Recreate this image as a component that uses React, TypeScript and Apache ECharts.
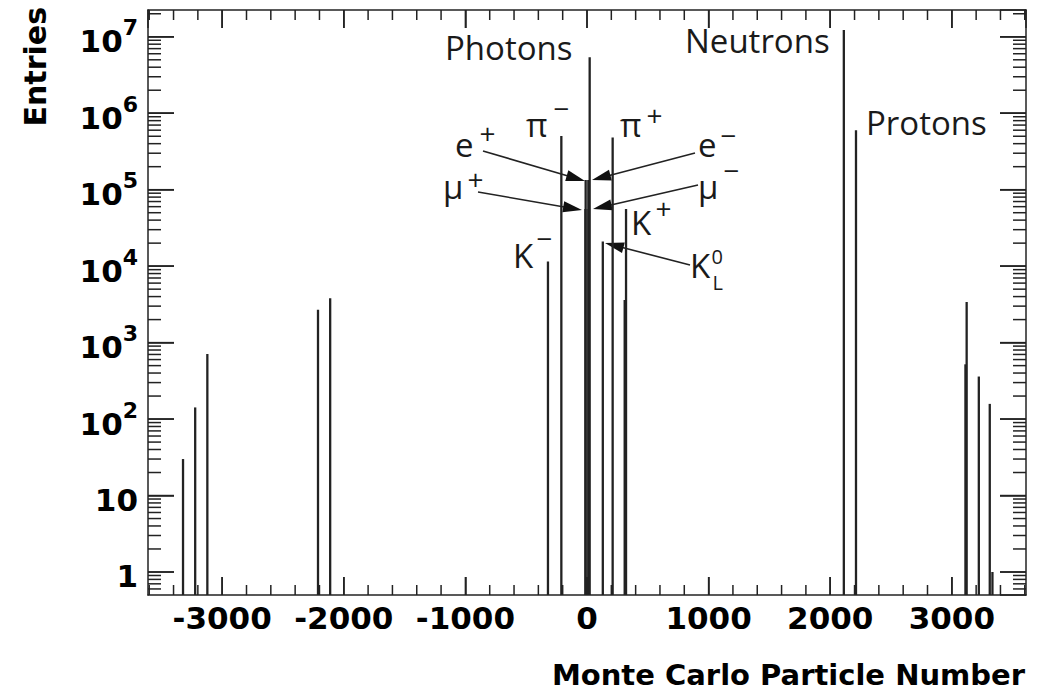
import React, { useEffect, useRef } from 'react';
import * as echarts from 'echarts';

// ---- data (PDG Monte Carlo particle codes and histogram entries) ----
const particleCodes = [-3322, -3222, -3122, -2212, -2112, -321, -211, -13, -11, 11, 13, 22, 130, 211, 310, 321, 2112, 2212, 3112, 3122, 3222, 3312, 3334];
const entries = [30, 142, 710, 2700, 3800, 11500, 505000, 56000, 134000, 134000, 56000, 5400000, 21000, 480000, 3600, 56000, 12300000, 600000, 520, 3400, 360, 158, 1];

const xMajorTicks = [-3000, -2000, -1000, 0, 1000, 2000, 3000];
const yMajorTicks = [1, 10, 100, 1000, 10000, 100000, 1000000, 10000000];

const X_MIN = -3610;
const X_MAX = 3610;
const Y_MIN = 0.5;
const Y_MAX = 2.24e7;

const xMinorTicks: number[] = [];
for (let v = -3600; v <= 3600; v += 200) if (v % 1000 !== 0) xMinorTicks.push(v);
const yMinorTicks: number[] = [];
for (let k = -1; k <= 7; k++) {
  for (let m = 2; m <= 9; m++) {
    const v = m * Math.pow(10, k);
    if (v > Y_MIN * 1.001 && v < Y_MAX) yMinorTicks.push(v);
  }
}

const AXIS_FONT = 'DejaVu Sans';
const LABEL_FONT = 'Open Sans';
const INK = '#1a1a1a';
const TICK = '#222';

// ---- annotation helpers ----
const OPEN_CENTRAL = 0.388;
function mainText(text: string, left: number, baseline: number, size = 33) {
  return {
    type: 'text',
    x: left - 2,
    y: baseline - OPEN_CENTRAL * size,
    silent: true,
    style: { text, fontFamily: LABEL_FONT, fontSize: size, lineHeight: size, fill: INK, align: 'left', verticalAlign: 'middle' },
  };
}
function smallText(text: string, left: number, centerY: number, size = 28) {
  return {
    type: 'text',
    x: left - 1.5,
    y: centerY,
    silent: true,
    style: { text, fontFamily: LABEL_FONT, fontSize: size, lineHeight: size * 0.8, fill: INK, align: 'left', verticalAlign: 'middle' },
  };
}
function arrow(x1: number, y1: number, x2: number, y2: number) {
  const dx = x2 - x1;
  const dy = y2 - y1;
  const len = Math.hypot(dx, dy);
  const ux = dx / len;
  const uy = dy / len;
  const hl = 19;
  const hw = 5.5;
  const bx = x2 - ux * hl;
  const by = y2 - uy * hl;
  return [
    { type: 'line', silent: true, shape: { x1, y1, x2: bx + ux * 4, y2: by + uy * 4 }, style: { stroke: '#222', lineWidth: 1.6 } },
    {
      type: 'polygon',
      silent: true,
      shape: { points: [[x2, y2], [bx - uy * hw, by + ux * hw], [bx + uy * hw, by - ux * hw]] },
      style: { fill: '#111' },
    },
  ];
}

const annotations: any[] = [
  mainText('Photons', 447, 60),
  mainText('Neutrons', 687, 53),
  mainText('Protons', 868, 135),
  mainText('π', 528, 137), smallText('−', 555, 108),
  mainText('π', 622, 137), smallText('+', 648, 115),
  mainText('e', 457, 157), smallText('+', 481, 133),
  mainText('e', 700, 157), smallText('−', 722, 135),
  mainText('μ', 445, 199), smallText('+', 469, 179),
  mainText('μ', 700, 199), smallText('−', 725, 170),
  mainText('K', 633, 235), smallText('+', 657, 208),
  mainText('K', 515, 268), smallText('−', 538, 238),
  mainText('K', 692, 278), smallText('0', 713, 256, 20), smallText('L', 714, 282, 20),
  ...arrow(483, 151, 585, 181),
  ...arrow(695, 153, 592, 180),
  ...arrow(478, 192, 582, 210),
  ...arrow(698, 185, 593, 209),
  ...arrow(690, 265, 605, 243),
  {
    type: 'text',
    right: 15,
    top: 660,
    silent: true,
    style: { text: 'Monte Carlo Particle Number', fontFamily: AXIS_FONT, fontWeight: 'bold', fontSize: 29, fill: '#000' },
  },
  {
    type: 'text',
    x: 35,
    y: 7,
    rotation: Math.PI / 2,
    silent: true,
    style: { text: 'Entries', fontFamily: AXIS_FONT, fontWeight: 'bold', fontSize: 30, fill: '#000', align: 'right', verticalAlign: 'middle' },
  },
];

function frameLine() {
  return { show: true, onZero: false, lineStyle: { color: TICK, width: 1.5 } };
}
function xTick() {
  return { show: true, inside: true, length: 18, lineStyle: { color: TICK, width: 1.5 } };
}
function yTick() {
  return { show: true, inside: true, length: 26, lineStyle: { color: TICK, width: 1.5 } };
}

function tickLine(x1: number, y1: number, x2: number, y2: number) {
  return { type: 'line', silent: true, z: 50, shape: { x1, y1, x2, y2 }, style: { stroke: TICK, lineWidth: 1.5 } };
}

export default function App() {
  const ref = useRef<HTMLDivElement>(null);
  useEffect(() => {
    if (!ref.current) return;
    const chart = echarts.init(ref.current, null, { renderer: 'svg' });
    const option: any = {
      animation: false,
      backgroundColor: '#fff',
      grid: {
        left: 148,
        right: 14,
        top: 10,
        bottom: 100,
        show: false,
        containLabel: false,
        outerBoundsMode: 'none',
      },
      xAxis: [
        {
          type: 'value',
          position: 'bottom',
          min: X_MIN,
          max: X_MAX,
          splitNumber: 7,
          axisLine: frameLine(),
          axisTick: xTick(),
          splitLine: { show: false },
          axisLabel: {
            show: true,
            margin: 7,
            showMinLabel: false,
            showMaxLabel: false,
            fontFamily: AXIS_FONT,
            fontWeight: 'bold',
            fontSize: 31,
            color: '#000',
            formatter: (v: number) => (Math.abs(v % 1000) < 1e-6 ? String(Math.round(v)) : ''),
          },
        },
        {
          type: 'value',
          position: 'top',
          min: X_MIN,
          max: X_MAX,
          splitNumber: 7,
          axisLine: frameLine(),
          axisTick: xTick(),
          splitLine: { show: false },
          axisLabel: { show: false },
        },
      ],
      yAxis: [
        {
          type: 'log',
          logBase: 10,
          position: 'left',
          min: Y_MIN,
          max: Y_MAX,
          axisLine: frameLine(),
          axisTick: yTick(),
          splitLine: { show: false },
          axisLabel: {
            show: true,
            margin: 10,
            showMinLabel: false,
            showMaxLabel: false,
            formatter: (v: number) => {
              const lg = Math.log10(v);
              const k = Math.round(lg);
              if (k < 0 || Math.abs(lg - k) > 1e-6) return '';
              if (k === 0) return '{p|1}';
              if (k === 1) return '{p|10}';
              return `{b|10}{s|${k}}`;
            },
            rich: {
              p: { fontFamily: AXIS_FONT, fontWeight: 'bold', fontSize: 31, color: '#000', lineHeight: 40, verticalAlign: 'bottom' },
              b: { fontFamily: AXIS_FONT, fontWeight: 'bold', fontSize: 31, color: '#000', lineHeight: 31, verticalAlign: 'bottom' },
              s: { fontFamily: AXIS_FONT, fontWeight: 'bold', fontSize: 22, color: '#000', lineHeight: 40, verticalAlign: 'top' },
            },
          },
        },
        {
          type: 'log',
          logBase: 10,
          position: 'right',
          min: Y_MIN,
          max: Y_MAX,
          axisLine: frameLine(),
          axisTick: yTick(),
          splitLine: { show: false },
          axisLabel: { show: false },
        },
      ],
      series: [
        {
          type: 'custom',
          name: 'Entries',
          coordinateSystem: 'cartesian2d',
          xAxisIndex: 0,
          yAxisIndex: 0,
          silent: true,
          data: particleCodes.map((c, i) => [c, entries[i]]),
          renderItem: (_params: any, api: any) => {
            const top = api.coord([api.value(0), api.value(1)]);
            const base = api.coord([api.value(0), Y_MIN]);
            return {
              type: 'rect',
              shape: { x: top[0] - 1.15, y: top[1], width: 2.3, height: base[1] - top[1] },
              style: { fill: '#222' },
            };
          },
        },
      ],
      graphic: { elements: annotations },
    };
    chart.setOption(option);

    // ticks placed through the chart's own scales (convertToPixel)
    const finders: any[] = [{ seriesIndex: 0 }, { xAxisIndex: 0, yAxisIndex: 0 }, { gridIndex: 0 }];
    const toPx = (x: number, y: number): number[] | null => {
      for (const f of finders) {
        try {
          const r = chart.convertToPixel(f, [x, y]) as any;
          if (r && Number.isFinite(r[0]) && Number.isFinite(r[1])) return r as number[];
        } catch (e) {
          /* try next finder */
        }
      }
      return null;
    };
    const tickEls: any[] = [];
    const lb = toPx(X_MIN, Y_MIN);
    const rt = toPx(X_MAX, Y_MAX);
    if (lb && rt) {
      const addX = (t: number, len: number) => {
        const p = toPx(t, 1);
        if (!p) return;
        tickEls.push(tickLine(p[0], lb[1], p[0], lb[1] - len));
        tickEls.push(tickLine(p[0], rt[1], p[0], rt[1] + len));
      };
      const addY = (t: number, len: number) => {
        const p = toPx(0, t);
        if (!p) return;
        tickEls.push(tickLine(lb[0], p[1], lb[0] + len, p[1]));
        tickEls.push(tickLine(rt[0], p[1], rt[0] - len, p[1]));
      };
      xMajorTicks.forEach((t) => addX(t, 18));
      xMinorTicks.forEach((t) => addX(t, 10));
      yMajorTicks.forEach((t) => addY(t, 26));
      yMinorTicks.forEach((t) => addY(t, 13));
    }
    if (tickEls.length) {
      chart.setOption({ graphic: { elements: [...annotations, ...tickEls] } });
    }

    return () => chart.dispose();
  }, []);
  return (
    <div
      ref={ref}
      style={{ position: 'absolute', left: 0, top: 0, width: 1040, height: 695, background: '#fff' }}
    />
  );
}
